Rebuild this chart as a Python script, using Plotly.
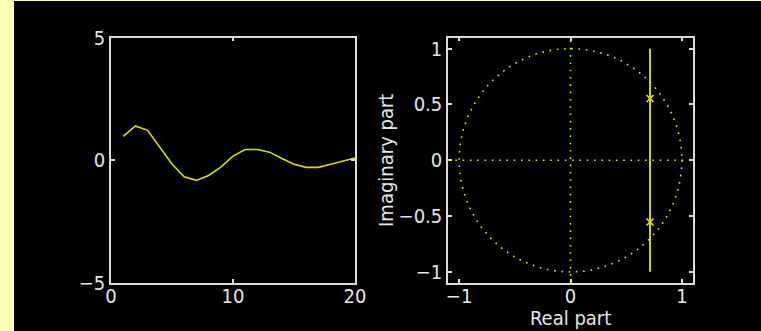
import plotly.graph_objects as go

# Impulse response samples (left panel)
n = [1, 2, 3, 4, 5, 6, 7, 8, 9, 10, 11, 12, 13, 14, 15, 16, 17, 18, 19, 20]
h = [0.97, 1.40, 1.22, 0.52, -0.15, -0.67, -0.82, -0.62, -0.28, 0.17,
     0.44, 0.44, 0.33, 0.07, -0.16, -0.29, -0.29, -0.16, -0.02, 0.09]

# Pole–zero plot (right panel)
pole_re = [0.714, 0.714]
pole_im = [0.553, -0.553]
vline_re = [0.714, 0.714]
vline_im = [-1.0, 1.0]
circle_radius = 1.0

left_xticks = [0, 10, 20]
left_yticks = [-5, 0, 5]
right_xticks = [-1, 0, 1]
right_yticks = [-1, -0.5, 0, 0.5, 1]

W, H = 761, 331
YEL = "#e8e800"
AX = "#dcdcdc"
FRAME = "#ffffb4"
FAMILY = "Liberation Sans Narrow, DejaVu Sans Condensed, Liberation Sans, sans-serif"
FONT = dict(family=FAMILY, size=20, color="#e6e6e6")

fig = go.Figure()

fig.add_trace(go.Scatter(x=n, y=h, mode="lines",
                         line=dict(color="#dcdc00", width=1.6),
                         xaxis="x", yaxis="y", showlegend=False))

fig.add_trace(go.Scatter(x=vline_re, y=vline_im, mode="lines",
                         line=dict(color=YEL, width=1.8),
                         xaxis="x2", yaxis="y2", showlegend=False))

fig.add_trace(go.Scatter(x=pole_re, y=pole_im, mode="markers",
                         marker=dict(symbol="x-thin", size=7,
                                     line=dict(color=YEL, width=1.6)),
                         xaxis="x2", yaxis="y2", showlegend=False))

dots = "1.6px,5.7px"
shapes = [
    # light-yellow frame: left strip and top edge
    dict(type="rect", xref="paper", yref="paper",
         x0=0, x1=14 / W, y0=0, y1=1,
         fillcolor=FRAME, line=dict(width=0), layer="below"),
    dict(type="rect", xref="paper", yref="paper",
         x0=0, x1=1, y0=1 - 1 / H, y1=1,
         fillcolor=FRAME, line=dict(width=0), layer="below"),
    # unit circle
    dict(type="circle", xref="x2", yref="y2",
         x0=-circle_radius, x1=circle_radius, y0=-circle_radius, y1=circle_radius,
         line=dict(color=YEL, width=1.6, dash=dots)),
    # real and imaginary axes
    dict(type="line", xref="x2 domain", yref="y2", x0=0, x1=1, y0=0, y1=0,
         line=dict(color=YEL, width=1.6, dash=dots)),
    dict(type="line", xref="x2", yref="y2 domain", x0=0, x1=0, y0=0, y1=1,
         line=dict(color=YEL, width=1.6, dash=dots)),
]

ydom = [1 - 283 / H, 1 - 37.5 / H]

axis_common = dict(showgrid=False, zeroline=False, showline=True, mirror="ticks",
                   linecolor=AX, linewidth=1.5, ticks="inside", ticklen=4,
                   tickcolor=AX, tickwidth=1.5, tickfont=FONT, automargin=False)

fig.update_layout(
    width=W, height=H,
    margin=dict(l=0, r=0, t=0, b=0),
    paper_bgcolor="black",
    plot_bgcolor="black",
    shapes=shapes,
    xaxis=dict(domain=[111 / W, 355 / W], range=[0, 20], tickvals=left_xticks,
               anchor="y", ticklabelstandoff=-6, **axis_common),
    yaxis=dict(domain=ydom, range=[-5, 5], tickvals=left_yticks,
               anchor="x", **axis_common),
    xaxis2=dict(domain=[448 / W, 693 / W], range=[-1.1, 1.1], tickvals=right_xticks,
                anchor="y2", ticklabelstandoff=-6, **axis_common),
    yaxis2=dict(domain=ydom, range=[-1.1, 1.1], tickvals=right_yticks,
                anchor="x2", title=dict(text="Imaginary part", font=FONT, standoff=0),
                **axis_common),
    annotations=[
        dict(text="Real part", xref="x2 domain", yref="paper",
             x=0.5, y=0, xanchor="center", yanchor="bottom",
             showarrow=False, font=FONT, borderpad=0),
    ],
)

fig.write_html("out.html")
